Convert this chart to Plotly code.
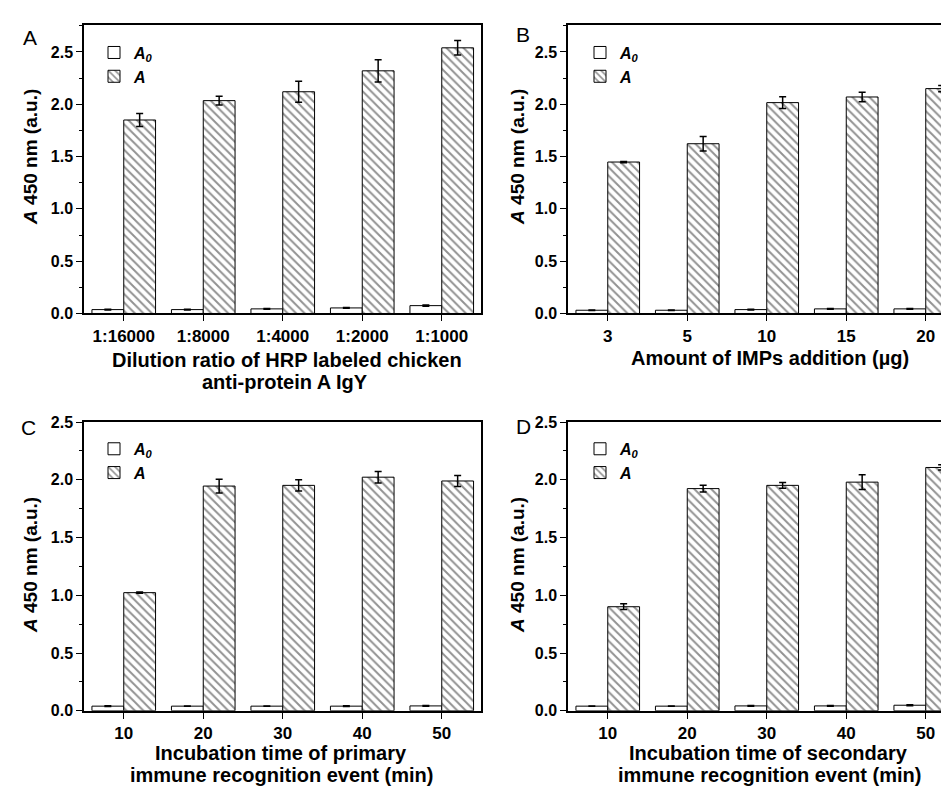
import plotly.graph_objects as go

# ---------------- data ----------------
cats_a = ["1:16000", "1:8000", "1:4000", "1:2000", "1:1000"]
a0_a = [0.037, 0.037, 0.044, 0.053, 0.075]
a0_a_err = [0.004, 0.003, 0.004, 0.004, 0.005]
a_a = [1.85, 2.035, 2.12, 2.32, 2.54]
a_a_err = [0.062, 0.042, 0.10, 0.107, 0.069]

cats_b = ["3", "5", "10", "15", "20"]
a0_b = [0.031, 0.031, 0.037, 0.044, 0.044]
a0_b_err = [0.003, 0.003, 0.003, 0.003, 0.003]
a_b = [1.448, 1.623, 2.016, 2.07, 2.15]
a_b_err = [0.006, 0.069, 0.055, 0.045, 0.03]

cats_c = ["10", "20", "30", "40", "50"]
a0_c = [0.04, 0.04, 0.04, 0.04, 0.042]
a0_c_err = [0.003, 0.002, 0.002, 0.003, 0.003]
a_c = [1.023, 1.946, 1.952, 2.023, 1.99]
a_c_err = [0.006, 0.06, 0.048, 0.05, 0.048]

cats_d = ["10", "20", "30", "40", "50"]
a0_d = [0.04, 0.04, 0.042, 0.042, 0.048]
a0_d_err = [0.002, 0.002, 0.003, 0.003, 0.004]
a_d = [0.901, 1.924, 1.952, 1.98, 2.107]
a_d_err = [0.025, 0.03, 0.024, 0.064, 0.023]

xtitles = {
    "A": ["Dilution ratio of HRP labeled chicken", "anti-protein A IgY"],
    "B": ["Amount of IMPs addition (µg)"],
    "C": ["Incubation time of primary", "immune recognition event (min)"],
    "D": ["Incubation time of secondary", "immune recognition event (min)"],
}
ytitle = "<b><i>A</i> 450 nm (a.u.)</b>"
leg_a0 = "<b><i>A<sub>0</sub></i></b>"
leg_a = "<b><i>A</i></b>"

# ---------------- layout geometry ----------------
W, H = 949, 792
FONT = "Liberation Sans, Arial, sans-serif"

def px_x(p):
    return p / W

def px_y(p):
    return 1 - p / H

panels = [
    # name, cats, a0, a0err, a, aerr, x0, x1, ytop, ybot, yrange top, right spine
    ("A", cats_a, a0_a, a0_a_err, a_a, a_a_err, 76, 473, 9, 304, 2.76, True),
    ("B", cats_b, a0_b, a0_b_err, a_b, a_b_err, 560, 949, 9, 304, 2.76, False),
    ("C", cats_c, a0_c, a0_c_err, a_c, a_c_err, 76, 473, 415, 710, 2.5, True),
    ("D", cats_d, a0_d, a0_d_err, a_d, a_d_err, 560, 949, 415, 710, 2.5, False),
]
cat_px = 79.5  # pixels per category

fig = go.Figure()
layout = dict(
    width=W, height=H,
    margin=dict(l=0, r=0, t=0, b=0),
    paper_bgcolor="white", plot_bgcolor="white",
    barmode="group", bargap=0.2, bargroupgap=0.0,
    font=dict(family=FONT, size=16, color="black"),
    showlegend=True,
)
annotations = []

letter_pos = {"A": (22, 22), "B": (515, 19), "C": (20, 421), "D": (515, 420)}
ytitle_pos = {"A": (23, 144), "B": (510, 144), "C": (23, 561), "D": (510, 561)}
xtitle_pos = {
    "A": [(279, 352), (277, 374)],
    "B": [(762, 350)],
    "C": [(273, 753), (273, 776)],
    "D": [(760, 753), (761, 776)],
}
legend_pos = {"A": (86, 20), "B": (572, 20), "C": (86, 425), "D": (572, 425)}

for i, (name, cats, a0, a0e, av, ae, x0, x1, yt, yb, ytop, rspine) in enumerate(panels):
    k = "" if i == 0 else str(i + 1)
    legname = "legend" if i == 0 else f"legend{i + 1}"
    fig.add_trace(go.Bar(
        x=cats, y=a0, name=leg_a0,
        xaxis="x" + k, yaxis="y" + k, legend=legname,
        marker=dict(color="white", line=dict(color="black", width=1)),
        error_y=dict(type="data", array=a0e, color="black", thickness=1.5, width=3.5),
    ))
    fig.add_trace(go.Bar(
        x=cats, y=av, name=leg_a,
        xaxis="x" + k, yaxis="y" + k, legend=legname,
        marker=dict(color="white", line=dict(color="black", width=1),
                    pattern=dict(shape="\\", fgcolor="#262626", bgcolor="white",
                                 size=6, solidity=0.33)),
        error_y=dict(type="data", array=ae, color="black", thickness=1.5, width=3.5),
    ))
    xr_end = -0.5 + (x1 - x0) / cat_px
    layout["xaxis" + k] = dict(
        domain=[px_x(x0), px_x(x1)], anchor="y" + k, type="category",
        range=[-0.5, xr_end], showline=True, linecolor="black", linewidth=1.5,
        mirror=True, ticks="outside", ticklen=6, tickwidth=1.2, tickcolor="black",
        showgrid=False, zeroline=False,
        tickfont=dict(family=FONT, size=17, color="black", weight="bold"),
    )
    layout["yaxis" + k] = dict(
        domain=[px_y(yb), px_y(yt)], anchor="x" + k,
        range=[0, ytop], showline=True, linecolor="black", linewidth=1.5,
        mirror=rspine, ticks="outside", ticklen=6, tickwidth=1.2, tickcolor="black",
        dtick=0.5, tick0=0, tickformat=".1f", showgrid=False, zeroline=False,
        minor=dict(dtick=0.25, ticks="outside", ticklen=3, tickwidth=1, tickcolor="black"),
        tickfont=dict(family=FONT, size=16, color="black", weight="bold"),
    )
    lx, ly = legend_pos[name]
    layout[legname] = dict(
        x=px_x(lx), y=px_y(ly), xanchor="left", yanchor="top",
        bgcolor="rgba(0,0,0,0)", borderwidth=0, itemwidth=30,
        font=dict(family=FONT, size=16, color="black"),
        traceorder="normal",
    )
    # panel letter
    px_, py_ = letter_pos[name]
    annotations.append(dict(text=name, x=px_x(px_), y=px_y(py_), xref="paper", yref="paper",
                            showarrow=False, xanchor="center", yanchor="middle",
                            font=dict(family=FONT, size=21, color="black")))
    # y title
    px_, py_ = ytitle_pos[name]
    annotations.append(dict(text=ytitle, x=px_x(px_), y=px_y(py_), xref="paper", yref="paper",
                            showarrow=False, xanchor="center", yanchor="middle", textangle=-90,
                            font=dict(family=FONT, size=19, color="black")))
    # x title lines
    for line, (tx, ty) in zip(xtitles[name], xtitle_pos[name]):
        annotations.append(dict(text="<b>" + line + "</b>", x=px_x(tx), y=px_y(ty),
                                xref="paper", yref="paper", showarrow=False,
                                xanchor="center", yanchor="middle",
                                font=dict(family=FONT, size=20, color="black")))

layout["annotations"] = annotations
fig.update_layout(**layout)
fig.write_html("out.html")
